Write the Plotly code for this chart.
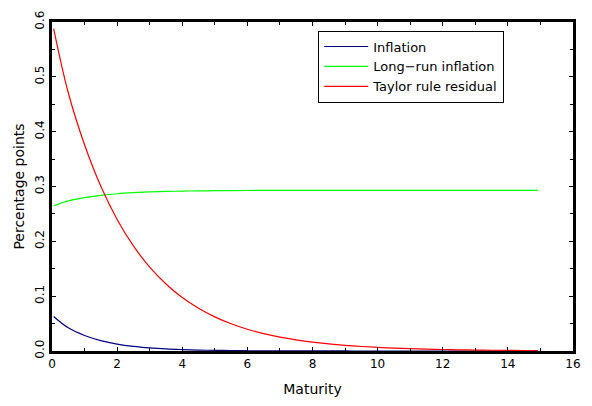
import plotly.graph_objects as go

maturity = [0.05, 0.5, 1, 1.5, 2, 2.5, 3, 3.5, 4, 4.5, 5, 5.5, 6, 6.5, 7, 7.5, 8, 8.5,
            9, 9.5, 10, 10.5, 11, 11.5, 12, 12.5, 13, 13.5, 14, 14.5, 14.92]

inflation = [0.0630, 0.0422, 0.0283, 0.0190, 0.0127, 0.0085, 0.0057, 0.0038, 0.0026,
             0.0017, 0.0012, 0.0008, 0.0005, 0.0003, 0.0002, 0.0001, 0.0001, 0.0001,
             0.0001, 0.0000, 0.0000, 0.0000, 0.0000, 0.0000, 0.0000, 0.0000, 0.0000,
             0.0000, 0.0000, 0.0000, 0.0000]

long_run = [0.2650, 0.2738, 0.2798, 0.2839, 0.2868, 0.2887, 0.2901, 0.2910, 0.2916,
            0.2920, 0.2923, 0.2925, 0.2927, 0.2928, 0.2929, 0.2929, 0.2930, 0.2930,
            0.2930, 0.2930, 0.2930, 0.2930, 0.2930, 0.2930, 0.2930, 0.2930, 0.2930,
            0.2930, 0.2930, 0.2930, 0.2930]

taylor = [0.5880, 0.4710, 0.3762, 0.3004, 0.2399, 0.1916, 0.1530, 0.1222, 0.0975,
          0.0779, 0.0622, 0.0497, 0.0397, 0.0317, 0.0253, 0.0202, 0.0161, 0.0129,
          0.0103, 0.0082, 0.0066, 0.0052, 0.0042, 0.0033, 0.0027, 0.0021, 0.0017,
          0.0014, 0.0011, 0.0009, 0.0007]

series = [("Inflation", inflation, "#00007f"),
          ("Long\u2212run inflation", long_run, "#00ff00"),
          ("Taylor rule residual", taylor, "#ff0000")]

fig = go.Figure()
for name, vals, col in series:
    fig.add_trace(go.Scatter(x=maturity, y=vals, mode="lines", name=name,
                             line=dict(color=col, width=1.2, shape="spline")))

font = dict(family="DejaVu Sans", size=12, color="black")
title_font = dict(family="DejaVu Sans", size=14, color="black")
axis_common = dict(showgrid=False, zeroline=False, showline=True, linecolor="black",
                   linewidth=3, mirror="ticks", ticks="inside", tickcolor="black",
                   tickwidth=1, tickfont=font)

fig.update_layout(
    width=592, height=406,
    margin=dict(l=52, r=11, t=17, b=54),
    paper_bgcolor="white", plot_bgcolor="white",
    font=font,
    showlegend=True,
    legend=dict(x=0.511, y=0.974, xanchor="left", yanchor="top",
                bordercolor="black", borderwidth=1, bgcolor="white",
                itemwidth=44,
                font=dict(family="DejaVu Sans", size=13, color="black"), tracegroupgap=0),
    xaxis=dict(range=[0, 16], dtick=2, ticklen=4,
               minor=dict(dtick=1, ticklen=3, ticks="inside", tickcolor="black"),
               title=dict(text="Maturity", font=title_font, standoff=14),
               **axis_common),
    yaxis=dict(range=[0, 0.6], dtick=0.1, tickformat=".1f", ticklen=4, tickangle=-90,
               minor=dict(dtick=0.05, ticklen=3, ticks="inside", tickcolor="black"),
               title=dict(text="Percentage points", font=title_font, standoff=6),
               **axis_common),
)

fig.write_html("out.html")
